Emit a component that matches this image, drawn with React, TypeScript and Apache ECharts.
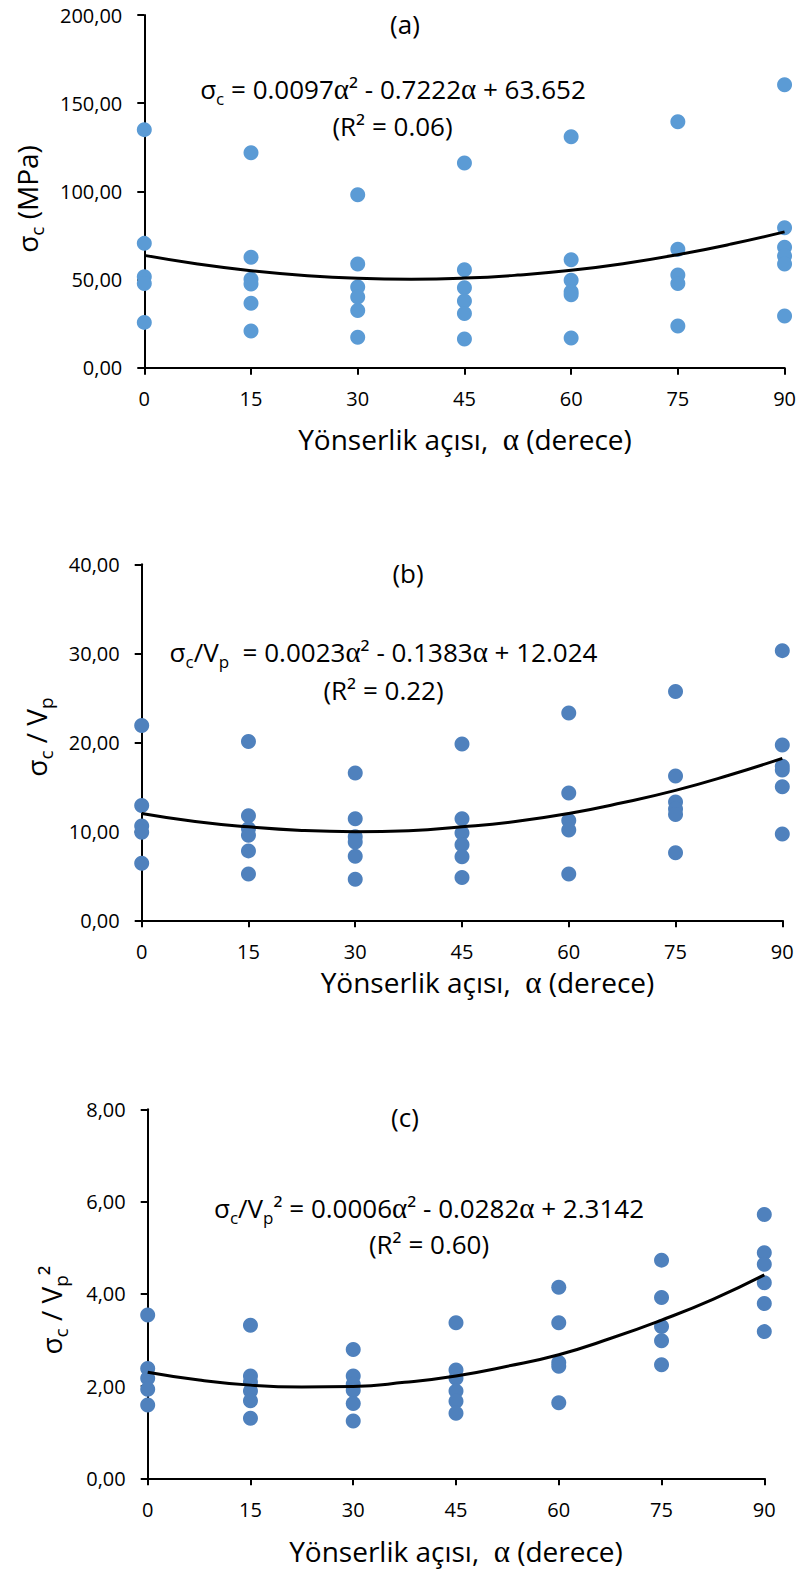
import React, { useEffect, useRef } from "react";
import * as echarts from "echarts";

// Orientation angles (x axis ticks)
const angleTicks = [0, 15, 30, 45, 60, 75, 90];

// (a) sigma_c (MPa), grouped by angle
const groupsA: number[][] = [
  [135.0, 70.5, 51.6, 47.8, 25.7],
  [121.9, 62.6, 50.1, 47.5, 36.5, 20.8],
  [98.1, 58.8, 45.8, 40.1, 32.5, 17.2],
  [116.1, 55.6, 45.4, 37.8, 30.8, 16.3],
  [131.0, 61.2, 49.6, 43.0, 41.3, 16.8],
  [139.5, 67.1, 52.6, 47.8, 23.6],
  [160.5, 79.4, 68.3, 63.3, 58.8, 29.3],
];
// (b) sigma_c / Vp
const groupsB: number[][] = [
  [21.9, 12.9, 10.6, 9.9, 6.4],
  [20.1, 11.75, 10.3, 9.55, 7.8, 5.2],
  [16.55, 11.4, 9.4, 8.8, 7.2, 4.6],
  [19.8, 11.4, 9.8, 8.5, 7.15, 4.8],
  [23.3, 14.3, 11.2, 10.15, 5.2],
  [25.7, 16.2, 13.3, 12.5, 11.9, 7.6],
  [30.3, 19.7, 17.3, 16.9, 15.0, 9.7],
];
// (c) sigma_c / Vp^2
const groupsC: number[][] = [
  [3.54, 2.38, 2.17, 1.93, 1.59],
  [3.32, 2.22, 2.09, 1.89, 1.68, 1.3],
  [2.79, 2.22, 2.04, 1.91, 1.62, 1.24],
  [3.37, 2.35, 2.17, 1.89, 1.67, 1.41],
  [4.14, 3.37, 2.51, 2.43, 1.64],
  [4.73, 3.92, 3.29, 2.98, 2.46],
  [5.72, 4.89, 4.64, 4.24, 3.79, 3.18],
];

// Trend line values at these angles
const trendAngles = [0, 7.5, 15, 22.5, 30, 37.5, 45, 52.5, 60, 67.5, 75, 82.5, 90];
const trendA = [63.7, 58.8, 55.0, 52.3, 50.7, 50.2, 50.8, 52.5, 55.2, 59.1, 64.1, 70.1, 77.0];
const trendB = [12.0, 11.1, 10.5, 10.1, 9.96, 10.07, 10.5, 11.1, 12.0, 13.2, 14.6, 16.3, 18.2];
const trendC = [2.3, 2.13, 2.02, 1.98, 1.99, 2.08, 2.22, 2.43, 2.68, 3.03, 3.43, 3.88, 4.41];

// Y-axis ranges
const yMaxA = 200, yStepA = 50;
const yMaxB = 40, yStepB = 10;
const yMaxC = 8, yStepC = 2;

const FONT = "'Open Sans', 'Noto Sans', sans-serif";
const SERIF = "'Liberation Serif', 'DejaVu Serif', serif";

function toPairs(groups: number[][]) {
  return groups.flatMap((g, i) => g.map((v) => [angleTicks[i], v]));
}
function trendPairs(t: number[]) {
  return t.map((v, i) => [trendAngles[i], v]);
}

function makeRich(size: number, subSize: number, lh: number, subLh: number) {
  return {
    n: { fontSize: size, fontFamily: FONT, lineHeight: lh, color: "#000" },
    g: { fontSize: size + 3, fontFamily: SERIF, lineHeight: lh, color: "#000" },
    s: { fontSize: subSize, fontFamily: FONT, lineHeight: subLh, verticalAlign: "bottom", color: "#000" },
  };
}

export default function App() {
  const ref = useRef<HTMLDivElement>(null);
  useEffect(() => {
    if (!ref.current) return;
    const chart = echarts.init(ref.current, undefined, { renderer: "svg" });

    const grids = [
      { left: 144.3, top: 15, width: 641.4, height: 352.7 },
      { left: 141.7, top: 564.3, width: 640.6, height: 356 },
      { left: 147.7, top: 1109.3, width: 616.6, height: 369 },
    ];
    const axisLine = { show: true, lineStyle: { color: "#000", width: 2 } };
    const axisTick = { show: true, length: 7, inside: false, lineStyle: { color: "#000", width: 2 } };
    const xAxes = grids.map((_, i) => ({
      type: "value",
      gridIndex: i,
      min: 0,
      max: 90,
      interval: 15,
      axisLine,
      axisTick,
      splitLine: { show: false },
      axisLabel: { fontSize: 20, color: "#000", fontFamily: FONT, margin: 21 },
    }));
    const yDefs = [
      [yMaxA, yStepA],
      [yMaxB, yStepB],
      [yMaxC, yStepC],
    ];
    const yAxes = yDefs.map(([mx, st], i) => ({
      type: "value",
      gridIndex: i,
      min: 0,
      max: mx,
      interval: st,
      axisLine,
      axisTick,
      splitLine: { show: false },
      axisLabel: {
        fontSize: 20,
        color: "#000",
        fontFamily: FONT,
        margin: 22,
        formatter: (v: number) => v.toFixed(2).replace(".", ","),
      },
    }));

    const colors = ["#5B9BD5", "#4F81BD", "#4F81BD"];
    const groups = [groupsA, groupsB, groupsC];
    const trends = [trendA, trendB, trendC];
    const series: any[] = [];
    groups.forEach((g, i) => {
      series.push({
        type: "scatter",
        xAxisIndex: i,
        yAxisIndex: i,
        data: toPairs(g),
        symbolSize: 15,
        itemStyle: { color: colors[i], opacity: 1 },
        z: 2,
      });
      series.push({
        type: "line",
        xAxisIndex: i,
        yAxisIndex: i,
        data: trendPairs(trends[i]),
        smooth: true,
        showSymbol: false,
        symbol: "none",
        lineStyle: { color: "#000", width: 3 },
        z: 3,
      });
    });

    const eqRich = makeRich(26, 17, 36, 24);
    const titleRich = makeRich(28, 18, 38, 25);
    const yRich = makeRich(28, 19, 38, 26);

    const txt = (x: number, y: number, text: string, size: number, rotation = 0, rich?: any) => ({
      type: "text",
      x,
      y,
      rotation,
      z: 10,
      style: {
        text,
        fill: "#000",
        fontSize: size,
        fontFamily: FONT,
        align: "center",
        verticalAlign: "middle",
        ...(rich ? { rich } : {}),
      },
    });
    const xTitle = "{n|Yönserlik açısı,  }{g|α}{n| (derece)}";

    const graphic = [
      txt(405, 24, "(a)", 26),
      txt(393, 89, "{n|σ}{s|c}{n| = 0.0097}{g|α}{n|² - 0.7222}{g|α}{n| + 63.652}", 26, 0, eqRich),
      txt(392.5, 126, "(R² = 0.06)", 26),
      txt(465, 439, xTitle, 28, 0, titleRich),
      txt(27, 199, "{n|σ}{s|c}{n| (MPa)}", 28, Math.PI / 2, yRich),

      txt(408, 573, "(b)", 26),
      txt(383.5, 652, "{n|σ}{s|c}{n|/V}{s|p}{n|  = 0.0023}{g|α}{n|² - 0.1383}{g|α}{n| + 12.024}", 26, 0, eqRich),
      txt(383.5, 690, "(R² = 0.22)", 26),
      txt(487.5, 982, xTitle, 28, 0, titleRich),
      txt(36, 737, "{n|σ}{s|c}{n| / V}{s|p}", 28, Math.PI / 2, yRich),

      txt(405, 1117, "(c)", 26),
      txt(429, 1208, "{n|σ}{s|c}{n|/V}{s|p}{n|² = 0.0006}{g|α}{n|² - 0.0282}{g|α}{n| + 2.3142}", 26, 0, eqRich),
      txt(429, 1244, "(R² = 0.60)", 26),
      txt(456, 1551, xTitle, 28, 0, titleRich),
      txt(51, 1310, "{n|σ}{s|c}{n| / V}{s|p}{n|²}", 28, Math.PI / 2, yRich),
    ];

    chart.setOption({
      animation: false,
      backgroundColor: "#fff",
      textStyle: { fontFamily: FONT },
      grid: grids,
      xAxis: xAxes,
      yAxis: yAxes,
      series,
      graphic,
    } as any);
    return () => chart.dispose();
  }, []);
  return (
    <div
      ref={ref}
      style={{ position: "absolute", left: 0, top: 0, width: 799, height: 1572 }}
    />
  );
}
